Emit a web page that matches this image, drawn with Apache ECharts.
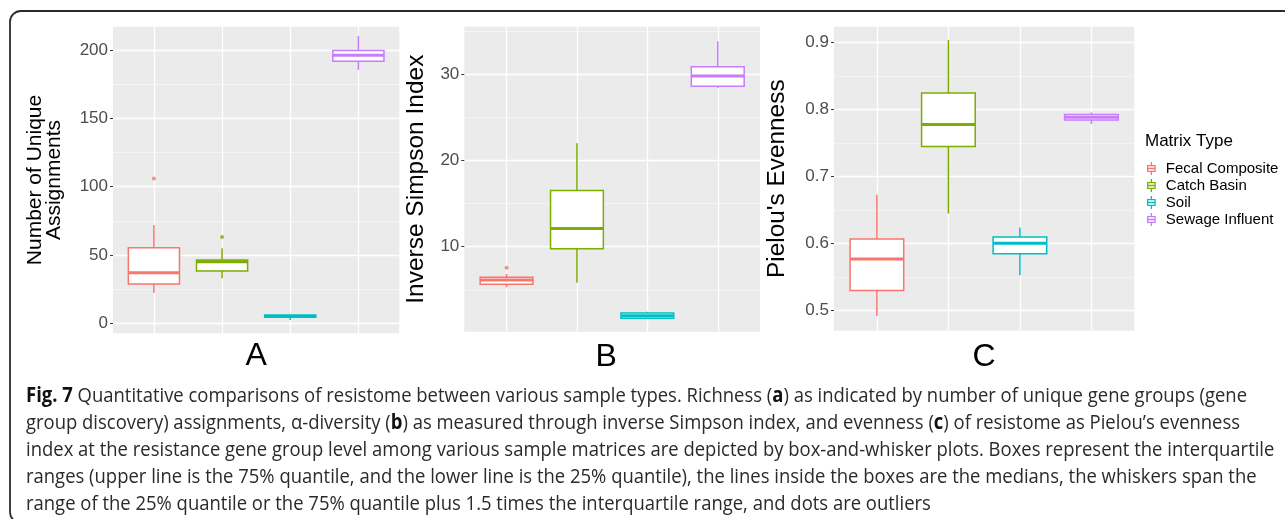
<!DOCTYPE html>
<html>
<head>
<meta charset="utf-8">
<script src="https://cdn.jsdelivr.net/npm/echarts@6/dist/echarts.min.js"></script>
<style>
html, body { margin: 0; padding: 0; background: #ffffff; }
#chart { width: 1285px; height: 519px; }
</style>
</head>
<body>
<div id="chart"></div>
<script>
// ---------------- data ----------------
const matrixTypes = ['Fecal Composite', 'Catch Basin', 'Soil', 'Sewage Influent'];
const categoryPositions = [1, 2, 3, 4];

// box statistics per matrix type: [lower whisker, Q1, median, Q3, upper whisker]
const richnessStats = [
  [22.4, 28.8, 37.0, 55.3, 72.0],
  [33.0, 38.3, 45.0, 46.3, 55.0],
  [2.4, 4.4, 5.0, 6.0, 6.2],
  [185.4, 191.8, 196.2, 199.6, 210.3]
];
const simpsonStats = [
  [5.29, 5.64, 6.14, 6.45, 6.83],
  [5.82, 9.77, 12.09, 16.5, 22.0],
  [1.65, 1.7, 2.0, 2.3, 2.45],
  [28.4, 28.6, 29.77, 30.85, 33.8]
];
const evennessStats = [
  [0.492, 0.530, 0.577, 0.607, 0.673],
  [0.645, 0.745, 0.778, 0.825, 0.904],
  [0.553, 0.585, 0.6005, 0.610, 0.624],
  [0.7786, 0.7846, 0.7886, 0.793, 0.796]
];

// outliers: [matrix type index, value]
const richnessOutliers = [[0, 106], [1, 63.2]];
const simpsonOutliers = [[0, 7.56]];
const evennessOutliers = [];

// tick labels
const richnessTicks = [0, 50, 100, 150, 200];
const simpsonTicks = [10, 20, 30];
const evennessTicks = [0.5, 0.6, 0.7, 0.8, 0.9];

const panelLetters = ['A', 'B', 'C'];
const axisTitles = ['Number of Unique\nAssignments', 'Inverse Simpson Index', "Pielou's Evenness"];
const legendTitle = 'Matrix Type';

const captionLines = [
  [['Fig. 7', true], [' Quantitative comparisons of resistome between various sample types. Richness (', false], ['a', true], [') as indicated by number of unique gene groups (gene', false]],
  [['group discovery) assignments, \u03b1-diversity (', false], ['b', true], [') as measured through inverse Simpson index, and evenness (', false], ['c', true], [') of resistome as Pielou\u2019s evenness', false]],
  [['index at the resistance gene group level among various sample matrices are depicted by box-and-whisker plots. Boxes represent the interquartile', false]],
  [['ranges (upper line is the 75% quantile, and the lower line is the 25% quantile), the lines inside the boxes are the medians, the whiskers span the', false]],
  [['range of the 25% quantile or the 75% quantile plus 1.5 times the interquartile range, and dots are outliers', false]]
];

// ---------------- styles / layout ----------------
const typeColors = ['#F8766D', '#7CAE00', '#00BFC4', '#C77CFF'];
const SANS = "'Liberation Sans', Arial, sans-serif";
const CAPTION_FONT = "'Open Sans', 'Noto Sans', sans-serif";
const BOX_WIDTH = 0.75;

const panels = [
  { stats: richnessStats, outliers: richnessOutliers, ticks: richnessTicks,
    grid: { left: 113, top: 26.7, width: 286.3, height: 306.6 },
    yMin: -7.3, yMax: 217, step: 50, titleSize: 21, titleLH: 19, nameGap: 49.5, letterGap: 7, letterPad: 0 },
  { stats: simpsonStats, outliers: simpsonOutliers, ticks: simpsonTicks,
    grid: { left: 464.3, top: 26.7, width: 295.7, height: 305 },
    yMin: 0.14, yMax: 35.5, step: 10, titleSize: 24.5, titleLH: 25, nameGap: 36, letterGap: 9, letterPad: 12 },
  { stats: evennessStats, outliers: evennessOutliers, ticks: evennessTicks,
    grid: { left: 834, top: 26.7, width: 300.3, height: 304 },
    yMin: 0.4701, yMax: 0.9239, step: 0.1, titleSize: 24.4, titleLH: 25, nameGap: 44, letterGap: 10, letterPad: 0 }
];

function makeRenderItem(color) {
  return function (params, api) {
    const x = api.value(0);
    const pts = [1, 2, 3, 4, 5].map(function (i) { return api.coord([x, api.value(i)]); });
    const half = api.size([BOX_WIDTH, 0])[0] / 2;
    const cx = pts[0][0];
    const line = { stroke: color, lineWidth: 1.5, fill: 'none' };
    return {
      type: 'group',
      children: [
        { type: 'line', shape: { x1: cx, y1: pts[0][1], x2: cx, y2: pts[1][1] }, style: line },
        { type: 'line', shape: { x1: cx, y1: pts[3][1], x2: cx, y2: pts[4][1] }, style: line },
        { type: 'rect', shape: { x: cx - half, y: pts[3][1], width: 2 * half, height: pts[1][1] - pts[3][1] },
          style: { fill: '#ffffff', stroke: color, lineWidth: 1.5 } },
        { type: 'line', shape: { x1: cx - half, y1: pts[2][1], x2: cx + half, y2: pts[2][1] },
          style: { stroke: color, lineWidth: 3, fill: 'none' } }
      ]
    };
  };
}

const grids = [], xAxes = [], yAxes = [], series = [];
panels.forEach(function (p, pi) {
  grids.push(Object.assign({ show: true, backgroundColor: '#EBEBEB', borderWidth: 0, containLabel: false, outerBoundsMode: 'none' }, p.grid));
  xAxes.push({
    type: 'value', gridIndex: pi, min: 0.4, max: 4.6,
    axisLine: { show: false },
    axisTick: { show: false, customValues: categoryPositions },
    axisLabel: { show: false, customValues: categoryPositions },
    splitLine: { show: true, lineStyle: { color: '#ffffff', width: 1.3 } },
    name: panelLetters[pi], nameLocation: 'middle', nameGap: p.letterGap, nameMoveOverlap: false,
    nameTextStyle: { fontFamily: SANS, fontSize: 32, color: '#000000', padding: [0, p.letterPad, 0, 0] }
  });
  yAxes.push({
    type: 'value', gridIndex: pi, min: p.yMin, max: p.yMax, minInterval: p.step, maxInterval: p.step,
    axisLine: { show: false },
    axisTick: { show: true, length: 3, lineStyle: { color: '#333333', width: 1 }, customValues: p.ticks },
    axisLabel: { show: true, customValues: p.ticks, margin: 5, color: '#4D4D4D', fontFamily: SANS, fontSize: 17 },
    splitLine: { show: true, lineStyle: { color: '#ffffff', width: 1.3 } },
    minorTick: { show: false, splitNumber: 2 },
    minorSplitLine: { show: true, lineStyle: { color: '#F6F6F6', width: 0.8 } },
    name: axisTitles[pi], nameLocation: 'middle', nameRotate: 90, nameGap: p.nameGap, nameMoveOverlap: false,
    nameTextStyle: { fontFamily: SANS, fontSize: p.titleSize, lineHeight: p.titleLH, color: '#000000' }
  });
  matrixTypes.forEach(function (name, ti) {
    series.push({
      type: 'custom', name: name, xAxisIndex: pi, yAxisIndex: pi,
      data: [[categoryPositions[ti]].concat(p.stats[ti])],
      encode: { x: 0, y: [1, 2, 3, 4, 5] },
      itemStyle: { color: typeColors[ti] },
      renderItem: makeRenderItem(typeColors[ti]),
      silent: true, z: 3
    });
  });
  matrixTypes.forEach(function (name, ti) {
    const pts = p.outliers.filter(function (o) { return o[0] === ti; })
      .map(function (o) { return [categoryPositions[o[0]], o[1]]; });
    if (pts.length) {
      series.push({
        type: 'scatter', name: name, xAxisIndex: pi, yAxisIndex: pi, data: pts,
        symbol: 'circle', symbolSize: 4, itemStyle: { color: typeColors[ti] }, silent: true, z: 4
      });
    }
  });
});

// caption measurement for horizontal compression
const CAPTION_SIZE = 20.5;
const measureCtx = document.createElement('canvas').getContext('2d');
function segWidth(seg) {
  measureCtx.font = (seg[1] ? 'bold ' : '') + CAPTION_SIZE + 'px ' + CAPTION_FONT;
  return measureCtx.measureText(seg[0]).width;
}
const line1Width = captionLines[0].reduce(function (s, seg) { return s + segWidth(seg); }, 0);
const captionScale = 1221 / line1Width;
const captionMiddles = [396.5, 423.5, 450.5, 477.5, 504];

const graphics = [
  { type: 'rect', silent: true, z: 10,
    shape: { x: 10, y: 11, width: 1400, height: 512, r: 11 },
    style: { stroke: '#2b2b2b', lineWidth: 1.8, fill: 'none' } }
];
captionLines.forEach(function (segs, li) {
  const text = segs.map(function (seg) { return seg[1] ? '{b|' + seg[0] + '}' : seg[0]; }).join('');
  graphics.push({
    type: 'text', silent: true, z: 10,
    x: 26, y: captionMiddles[li], scaleX: captionScale,
    style: {
      text: text, x: 0, y: 0, verticalAlign: 'middle', align: 'left',
      fontFamily: CAPTION_FONT, fontSize: CAPTION_SIZE, fill: '#2a2a2a',
      rich: { b: { fontWeight: 'bold', fontFamily: CAPTION_FONT, fontSize: CAPTION_SIZE, fill: '#111111' } }
    }
  });
});

const legendIcon = 'path://M4.5,0 L4.5,4 M0.5,4 L8.5,4 L8.5,10 L0.5,10 Z M0.5,7 L8.5,7 M4.5,10 L4.5,14';

const option = {
  animation: false,
  backgroundColor: '#ffffff',
  title: {
    text: legendTitle, left: 1145, top: 133, padding: 0,
    textStyle: { fontFamily: SANS, fontSize: 17, fontWeight: 'normal', color: '#000000' }
  },
  legend: {
    orient: 'vertical', left: 1147, top: 161, padding: 0,
    itemWidth: 9, itemHeight: 13, itemGap: 2,
    data: matrixTypes.map(function (n, i) {
      return { name: n, icon: legendIcon, itemStyle: { color: '#ffffff', borderColor: typeColors[i], borderWidth: 1.3 } };
    }),
    textStyle: { fontFamily: SANS, fontSize: 15, color: '#000000', lineHeight: 14, padding: [0, 0, 0, 5] }
  },
  grid: grids,
  xAxis: xAxes,
  yAxis: yAxes,
  series: series,
  graphic: graphics
};

const chart = echarts.init(document.getElementById('chart'), null, { renderer: 'canvas' });
chart.setOption(option);
</script>
</body>
</html>
